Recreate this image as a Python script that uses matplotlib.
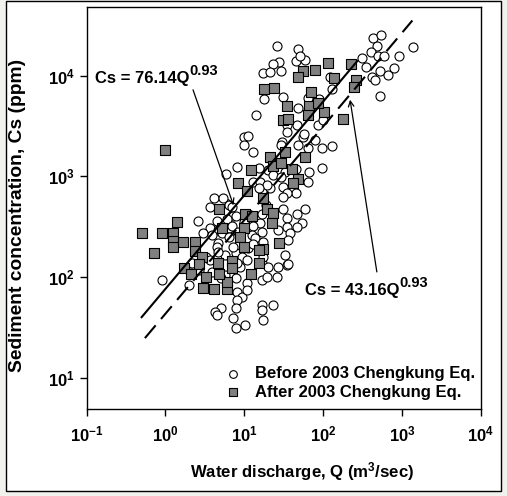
import numpy as np
import matplotlib
matplotlib.use("Agg")
import matplotlib.pyplot as plt
from matplotlib.patches import Rectangle
from matplotlib.ticker import FixedLocator, FixedFormatter, NullLocator

plt.rcParams['font.family'] = ['Liberation Sans', 'DejaVu Sans']
plt.rcParams['font.weight'] = 'bold'
plt.rcParams['mathtext.fontset'] = 'custom'
plt.rcParams['mathtext.rm'] = 'Liberation Sans:bold'
plt.rcParams['mathtext.bf'] = 'Liberation Sans:bold'
plt.rcParams['mathtext.it'] = 'Liberation Sans:bold:italic'

# ---- data (log10 values) ----
before_logQ = [2.63, 2.73, 2.68, 2.61, 2.49, 2.70, 2.77, 2.96, 3.14, 2.54, 2.62, 2.66, 2.72, 2.82, 2.90, 2.72, 2.09, 2.11,
               1.42, 1.68, 1.66, 1.77, 1.44, 1.37, 1.47, 1.24, 1.33, 1.70, 1.25, 1.49, 1.15, 1.68, 1.81, 1.95, 0.99, 1.05,
               0.99, 1.11, 1.67, 1.75, 1.94, 2.00, 1.54, 1.54, 1.76, 1.90, 1.68, 1.81, 1.99, 2.11, 1.48, 1.82, 1.99, 1.65,
               1.52, 1.49, 1.65, 1.54, 1.46, 0.91, 0.77, 1.30, 1.37, 1.46, 1.81, 1.33, 1.11, 1.19, 1.20, 1.29, 1.18,
               0.61, 0.73, 0.80, 0.57, 0.85, 0.86, 0.78, 0.66, 0.57, 0.67, 0.80, 1.11, 1.20, 1.49, 1.54, 1.67, 1.77, 1.73,
               1.54, 1.43, 1.23, 1.58, 1.67, 0.48, 0.59, 0.67, 0.72, 0.80, 0.89, 0.85, 0.92, 0.99, 1.11, 1.23, 1.27, 1.10,
               1.14, 1.24, 1.05, 0.89, 0.76, 0.66, 0.51, 0.42, 0.59, 0.76, 0.89, 0.95, 1.23, 0.70, 0.67, 0.57, 0.86, 0.97,
               1.11, 1.04, 0.91, 1.04, 0.91, 0.97, 1.04, 0.91, 1.23, 1.23, 1.23, 1.37, 1.24, 1.01, 0.89, 0.86, 0.89, 0.70,
               0.63, 0.66, 1.42, 1.54, 1.30, 1.29, 1.24, 0.41, 0.34, 0.33, 0.30, -0.04, 1.49, 1.56, 1.52, 1.56, 1.43]
before_logCs = [4.37, 4.40, 4.29, 4.23, 4.17, 4.19, 4.19, 4.19, 4.28, 4.08, 3.99, 3.96, 4.04, 4.01, 4.07, 3.80, 3.99, 3.87,
                4.29, 4.26, 4.14, 4.15, 4.13, 4.11, 4.04, 4.02, 4.03, 4.19, 3.77, 3.79, 3.61, 3.68, 3.78, 3.77, 3.39, 3.40,
                3.31, 3.24, 3.51, 3.39, 3.51, 3.56, 3.51, 3.44, 3.42, 3.36, 3.31, 3.28, 3.28, 3.30, 3.34, 3.04, 3.08, 3.07,
                3.04, 2.89, 2.83, 2.83, 3.31, 3.09, 3.02, 3.06, 3.01, 2.99, 2.94, 2.88, 2.94, 3.08, 2.94, 2.91, 2.88,
                2.78, 2.78, 2.71, 2.69, 2.69, 2.61, 2.58, 2.56, 2.49, 2.47, 2.49, 2.53, 2.54, 2.68, 2.59, 2.63, 2.68, 2.54,
                2.50, 2.47, 2.45, 2.44, 2.50, 2.44, 2.42, 2.34, 2.44, 2.40, 2.61, 2.51, 2.45, 2.55, 2.51, 2.63, 2.71, 2.42,
                2.39, 2.35, 2.29, 2.24, 2.22, 2.30, 2.20, 2.07, 2.05, 2.02, 1.99, 2.10, 2.14, 1.99, 2.25, 2.17, 2.30, 2.20,
                2.33, 2.17, 2.14, 1.94, 1.85, 1.80, 1.87, 1.77, 1.97, 1.72, 1.67, 1.72, 1.57, 1.52, 1.49, 1.59, 1.69, 1.69,
                1.65, 1.62, 2.00, 2.12, 2.10, 2.00, 2.20, 2.56, 2.14, 2.04, 1.92, 1.97, 2.79, 2.37, 2.22, 2.13, 2.10]

after_logQ = [0.00, 1.25, 1.38, 1.75, 1.89, 1.68, 2.06, 2.14, 2.35, 2.41, 2.39, 2.25, 2.01, 1.54, 1.85, 1.82, 1.94,
              1.81, 1.49, 1.56, 1.32, 1.52, 1.37, 1.46, 1.77, 1.08, 1.61, 1.68, 1.62, 0.92, 1.04, 1.24, 1.29, 1.37,
              1.01, 1.10, 0.68, 1.35, 0.72, 0.99, 0.94, 0.38, -0.30, -0.04, 0.09, 0.15, 0.10, 0.10, 0.22, 0.38, -0.15,
              0.23, 0.47, 0.42, 0.52, 0.48, 0.61, 0.78, 0.78, 0.67, 0.68, 0.84, 0.84, 0.99, 1.24, 1.44, 1.18, 1.09,
              1.18, 0.32]
after_logCs = [3.26, 3.87, 3.88, 4.04, 4.05, 3.99, 4.12, 3.98, 4.11, 3.96, 3.89, 3.57, 3.64, 3.70, 3.84, 3.70, 3.73,
               3.61, 3.56, 3.57, 3.19, 3.24, 3.10, 3.13, 3.19, 3.06, 3.07, 2.97, 2.93, 2.93, 2.85, 2.78, 2.68, 2.64,
               2.63, 2.61, 2.68, 2.54, 2.49, 2.49, 2.40, 2.35, 2.44, 2.44, 2.44, 2.55, 2.36, 2.30, 2.35, 2.26, 2.24,
               2.09, 2.20, 2.13, 2.00, 1.89, 1.88, 1.88, 1.95, 2.14, 2.03, 2.16, 2.09, 2.30, 2.28, 2.34, 2.14, 2.03,
               2.27, 2.03]

# regression lines (from the equations printed on the chart)
coef_before, coef_after, expo = 76.14, 43.16, 0.93
q_range_solid = (0.5, 270.0)
q_range_dashed = (0.55, 1350.0)

x_ticks = [1e-1, 1e0, 1e1, 1e2, 1e3, 1e4]
x_tick_labels = [r'$\mathbf{10^{-1}}$', r'$\mathbf{10^{0}}$', r'$\mathbf{10^{1}}$', r'$\mathbf{10^{2}}$',
                 r'$\mathbf{10^{3}}$', r'$\mathbf{10^{4}}$']
y_ticks = [1e1, 1e2, 1e3, 1e4]
y_tick_labels = [r'$\mathbf{10^{1}}$', r'$\mathbf{10^{2}}$', r'$\mathbf{10^{3}}$', r'$\mathbf{10^{4}}$']

# ---- figure ----
W, H = 507, 496
fig = plt.figure(figsize=(W / 100, H / 100), dpi=100)
fig.patch.set_facecolor('#f1f1ed')
fig.patches.append(Rectangle((6 / W, 5 / H), 495 / W, 490 / H, transform=fig.transFigure,
                             facecolor='white', edgecolor='black', linewidth=1.0, zorder=-10))

ax = fig.add_axes([86.5 / W, (H - 409) / H, 394.5 / W, 402 / H])
ax.set_zorder(5)
ax.set_xscale('log')
ax.set_yscale('log')
ax.set_xlim(1e-1, 1e4)
ax.set_ylim(10 ** 0.69, 10 ** 4.68)

bq = 10 ** np.array(before_logQ)
bc = 10 ** np.array(before_logCs)
aq = 10 ** np.array(after_logQ)
ac = 10 ** np.array(after_logCs)

ax.scatter(bq, bc, s=6.5 ** 2, marker='o', facecolor='white', edgecolor='black', linewidth=0.8, zorder=2,
           label='Before 2003 Chengkung Eq.')
ax.scatter(aq, ac, s=6.8 ** 2, marker='s', facecolor='#808080', edgecolor='black', linewidth=0.8, zorder=3,
           label='After 2003 Chengkung Eq.')

qs = np.logspace(np.log10(q_range_solid[0]), np.log10(q_range_solid[1]), 50)
ax.plot(qs, coef_before * qs ** expo, color='black', lw=1.5, zorder=4)
qd = np.logspace(np.log10(q_range_dashed[0]), np.log10(q_range_dashed[1]), 50)
ax.plot(qd, coef_after * qd ** expo, color='black', lw=1.5, linestyle=(0, (8, 4)), zorder=4)

ax.xaxis.set_major_locator(FixedLocator(x_ticks))
ax.xaxis.set_major_formatter(FixedFormatter(x_tick_labels))
ax.yaxis.set_major_locator(FixedLocator(y_ticks))
ax.yaxis.set_major_formatter(FixedFormatter(y_tick_labels))
ax.xaxis.set_minor_locator(NullLocator())
ax.yaxis.set_minor_locator(NullLocator())
ax.tick_params(axis='both', which='major', direction='out', length=5, width=1, labelsize=12, color='black')
ax.tick_params(axis='x', pad=6)
for sp in ax.spines.values():
    sp.set_linewidth(1.0)

# annotations (equation text with a large superscript exponent)
t1 = ax.text(0.022, 0.81, 'Cs = 76.14Q', transform=ax.transAxes, fontsize=12, ha='left', va='baseline')
ax.annotate('%.2f' % expo, xy=(1.0, 0.55), xycoords=t1, fontsize=10.5, ha='left', va='bottom')
ax.annotate('', xy=(7.3, 515), xycoords='data', xytext=(0.27, 0.794), textcoords='axes fraction',
            arrowprops=dict(arrowstyle='->', color='black', lw=0.9, shrinkA=0, shrinkB=0))
t2 = ax.text(0.554, 0.283, 'Cs = 43.16Q', transform=ax.transAxes, fontsize=12, ha='left', va='baseline')
ax.annotate('%.2f' % expo, xy=(1.0, 0.55), xycoords=t2, fontsize=10.5, ha='left', va='bottom')
ax.annotate('', xy=(219, 5750), xycoords='data', xytext=(0.736, 0.341), textcoords='axes fraction',
            arrowprops=dict(arrowstyle='->', color='black', lw=0.9, shrinkA=0, shrinkB=0))

leg = ax.legend(loc='center left', bbox_to_anchor=(0.35, 0.065), frameon=False, fontsize=12,
                handlelength=1.0, handletextpad=0.8, borderpad=0, borderaxespad=0, labelspacing=0.2,
                markerscale=0.85)

fig.text(302 / W, (H - 472) / H, r'Water discharge, Q (m$^{\mathbf{3}}$/sec)', fontsize=12.1,
         ha='center', va='center')
fig.text(18 / W, (H - 215) / H, 'Sediment concentration, Cs (ppm)', fontsize=13.9, rotation=90,
         ha='center', va='center')

fig.savefig('out.png', dpi=100, facecolor=fig.get_facecolor())
